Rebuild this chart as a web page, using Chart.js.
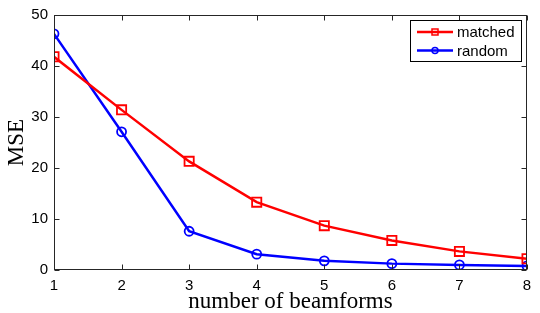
<!DOCTYPE html>
<html>
<head>
<meta charset="utf-8">
<script src="https://cdn.jsdelivr.net/npm/chart.js@4.4.1/dist/chart.umd.min.js"></script>
<style>
  html, body { margin: 0; padding: 0; background: #fff; }
  #wrap { width: 540px; height: 313px; }
</style>
</head>
<body>
<div id="wrap"><canvas id="chart" width="540" height="313"></canvas></div>
<script>
// dados
const beamforms = [1, 2, 3, 4, 5, 6, 7, 8];
const matchedMSE = [41.8, 31.4, 21.3, 13.3, 8.7, 5.8, 3.65, 2.2];
const randomMSE = [46.3, 27.1, 7.6, 3.1, 1.8, 1.25, 1.0, 0.8];
const yTicks = [0, 10, 20, 30, 40, 50];
const xTicks = [1, 2, 3, 4, 5, 6, 7, 8];

const sansFont = "'Liberation Sans', Arial, sans-serif";
const serifFont = "'Liberation Serif', 'Times New Roman', serif";

// caixa, marcas internas estilo MATLAB e legenda
const matlabAxes = {
  id: "matlabAxes",
  afterDraw(chart) {
    const { ctx, chartArea: a, scales } = chart;
    const L = Math.round(a.left) + 0.5, R = Math.round(a.right) - 0.5;
    const T = Math.round(a.top) + 0.5, B = Math.round(a.bottom) - 0.5;
    ctx.save();
    ctx.strokeStyle = "#262626";
    ctx.lineWidth = 1;
    ctx.strokeRect(L, T, R - L, B - T);

    const len = 5;
    ctx.beginPath();
    yTicks.forEach(v => {
      const y = Math.round(scales.y.getPixelForValue(v)) + 0.5;
      ctx.moveTo(L, y); ctx.lineTo(L + len, y);
      ctx.moveTo(R, y); ctx.lineTo(R - len, y);
    });
    xTicks.forEach(v => {
      const x = Math.round(scales.x.getPixelForValue(v)) + 0.5;
      ctx.moveTo(x, B); ctx.lineTo(x, B - len);
      ctx.moveTo(x, T); ctx.lineTo(x, T + len);
    });
    ctx.stroke();

    // legenda
    const bx = 410.5, by = 20.5, bw = 111, bh = 41;
    ctx.fillStyle = "#fff";
    ctx.fillRect(bx, by, bw, bh);
    ctx.strokeStyle = "#000";
    ctx.strokeRect(bx, by, bw, bh);
    chart.data.datasets.forEach((ds, i) => {
      const y = 32 + i * 18.5;
      ctx.strokeStyle = ds.borderColor;
      ctx.lineWidth = 2.5;
      ctx.beginPath();
      ctx.moveTo(417, y); ctx.lineTo(453, y);
      ctx.stroke();
      ctx.lineWidth = 1.5;
      ctx.beginPath();
      if (ds.pointStyle === "rect") {
        ctx.rect(432, y - 3, 6, 6);
      } else {
        ctx.arc(435, y, 3, 0, Math.PI * 2);
      }
      ctx.stroke();
      ctx.fillStyle = "#000";
      ctx.font = "15px " + sansFont;
      ctx.textBaseline = "middle";
      ctx.fillText(ds.label, 457, y + 1);
    });
    ctx.restore();
  }
};

new Chart(document.getElementById("chart"), {
  type: "line",
  data: {
    datasets: [
      {
        label: "matched",
        data: beamforms.map((x, i) => ({ x, y: matchedMSE[i] })),
        borderColor: "#ff0000",
        backgroundColor: "rgba(0,0,0,0)",
        borderWidth: 2.5,
        pointStyle: "rect",
        pointRadius: 6.5,
        pointBorderWidth: 1.8,
        pointBackgroundColor: "rgba(0,0,0,0)",
        tension: 0
      },
      {
        label: "random",
        data: beamforms.map((x, i) => ({ x, y: randomMSE[i] })),
        borderColor: "#0000ff",
        backgroundColor: "rgba(0,0,0,0)",
        borderWidth: 2.5,
        pointStyle: "circle",
        pointRadius: 4.5,
        pointBorderWidth: 1.8,
        pointBackgroundColor: "rgba(0,0,0,0)",
        tension: 0
      }
    ]
  },
  options: {
    responsive: false,
    animation: false,
    layout: { padding: { top: 14, right: 13, left: 0, bottom: 0 } },
    plugins: { legend: { display: false }, tooltip: { enabled: false } },
    scales: {
      x: {
        type: "linear",
        min: 1,
        max: 8,
        afterBuildTicks: s => { s.ticks = xTicks.map(v => ({ value: v })); },
        afterFit: s => { s.height = 43; },
        grid: { display: false, drawTicks: false },
        border: { display: false },
        ticks: { color: "#000", padding: 7, maxRotation: 0, font: { family: sansFont, size: 15 } },
        title: {
          display: true,
          text: "number of beamforms",
          color: "#000",
          padding: { top: 0, bottom: -3 },
          font: { family: serifFont, size: 23 }
        }
      },
      y: {
        min: 0,
        max: 50,
        afterBuildTicks: s => { s.ticks = yTicks.map(v => ({ value: v })); },
        afterFit: s => { s.width = 54; },
        grid: { display: false, drawTicks: false },
        border: { display: false },
        ticks: { color: "#000", padding: 6, font: { family: sansFont, size: 15 } },
        title: {
          display: true,
          text: "MSE",
          color: "#000",
          padding: { top: 3, bottom: 0 },
          font: { family: serifFont, size: 23 }
        }
      }
    }
  },
  plugins: [matlabAxes]
});
</script>
</body>
</html>
